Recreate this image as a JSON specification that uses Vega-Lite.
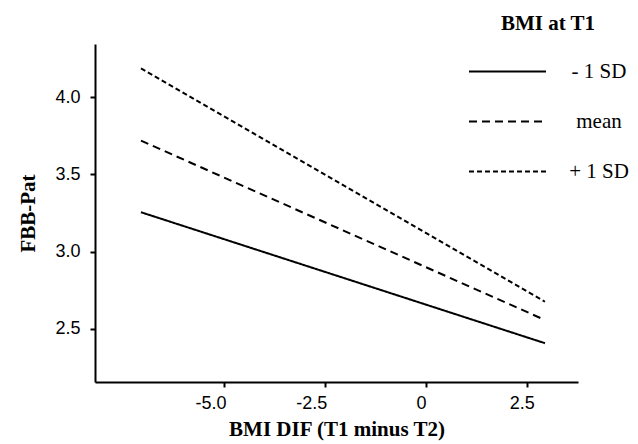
{
  "$schema": "https://vega.github.io/schema/vega-lite/v6.json",
  "width": 483,
  "height": 338,
  "autosize": {"type": "none"},
  "padding": {"left": 95, "top": 44, "right": 60, "bottom": 62},
  "background": "white",
  "config": {
    "view": {"stroke": null},
    "axis": {"grid": false, "domainColor": "black", "domainWidth": 2, "tickColor": "black", "tickWidth": 2, "tickSize": 5,
      "labelFont": "Liberation Sans", "labelFontSize": 18, "labelColor": "black",
      "titleFont": "Liberation Serif", "titleFontSize": 21, "titleFontWeight": "bold", "titleColor": "black"}
  },
  "data": {
    "values": [
      {"group": "- 1 SD", "bmidif": -7.07, "fbb": 3.255},
      {"group": "- 1 SD", "bmidif": 2.95, "fbb": 2.408},
      {"group": "mean", "bmidif": -7.07, "fbb": 3.718},
      {"group": "mean", "bmidif": 2.95, "fbb": 2.558},
      {"group": "+ 1 SD", "bmidif": -7.07, "fbb": 4.186},
      {"group": "+ 1 SD", "bmidif": 2.95, "fbb": 2.676}
    ]
  },
  "mark": {"type": "line", "color": "black", "strokeWidth": 2},
  "encoding": {
    "x": {"field": "bmidif", "type": "quantitative", "title": "BMI DIF (T1 minus T2)",
      "scale": {"domain": [-8.21, 3.77], "nice": false, "zero": false},
      "axis": {"values": [-5, -2.5, 0, 2.5], "labelExpr": "datum.value == 0 ? '0' : replace(format(datum.value, '.1f'), '−', '-')",
        "labelOffset": {"condition": {"test": "datum.value < 0", "value": -14}, "value": -5},
        "labelPadding": 7, "titlePadding": 6}},
    "y": {"field": "fbb", "type": "quantitative", "title": "FBB-Pat",
      "scale": {"domain": [2.157, 4.343], "nice": false, "zero": false},
      "axis": {"values": [2.5, 3, 3.5, 4], "format": ".1f", "labelPadding": 10, "titlePadding": 16}},
    "strokeDash": {"field": "group", "type": "nominal",
      "scale": {"domain": ["- 1 SD", "mean", "+ 1 SD"], "range": [[1, 0], [8, 5], [5, 3]]},
      "legend": {"title": "BMI at T1", "orient": "none", "legendX": 373, "legendY": -31, "padding": 0,
        "symbolType": "stroke", "symbolSize": 5929, "symbolStrokeWidth": 2, "symbolStrokeColor": "black",
        "titleFont": "Liberation Serif", "titleFontSize": 21, "titleFontWeight": "bold", "titleColor": "black",
        "titleAnchor": "middle", "titlePadding": -2,
        "labelFont": "Liberation Serif", "labelFontSize": 21, "labelColor": "black",
        "labelAlign": "center", "labelOffset": 52, "rowPadding": 0}}
  }
}
